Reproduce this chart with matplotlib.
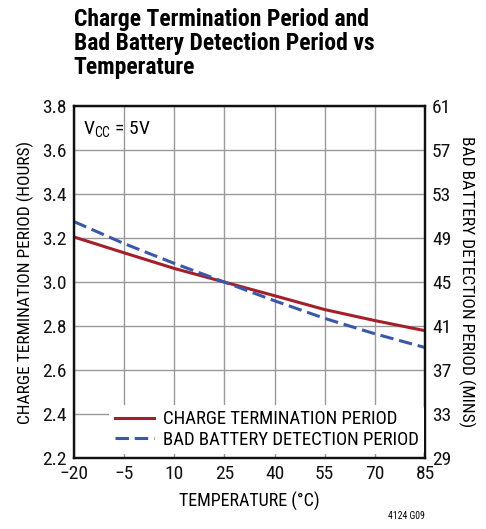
import matplotlib
matplotlib.use("Agg")
import matplotlib.pyplot as plt

plt.rcParams['font.family'] = ['Roboto Condensed', 'Archivo Narrow', 'DejaVu Sans']

# temperature (°C)
temps = [-20, -5, 10, 25, 40, 55, 70, 85]
# charge termination period (hours)
charge_hours = [3.205, 3.133, 3.062, 3.0, 2.938, 2.875, 2.825, 2.779]
# bad battery detection period (mins)
bad_batt_mins = [50.5, 48.5, 46.7, 45.0, 43.3, 41.7, 40.3, 39.05]

x_ticks = [-20, -5, 10, 25, 40, 55, 70, 85]
x_labels = ['\u221220', '\u22125', '10', '25', '40', '55', '70', '85']
left_ticks = [2.2, 2.4, 2.6, 2.8, 3.0, 3.2, 3.4, 3.6, 3.8]
right_ticks = [29, 33, 37, 41, 45, 49, 53, 57, 61]

red = '#a3202a'
blue = '#3b58a8'

fig = plt.figure(figsize=(4.86, 5.29), dpi=100)
ax = fig.add_axes([0.152, 0.134, 0.7225, 0.6656])
ax2 = ax.twinx()

l1, = ax.plot(temps, charge_hours, color=red, lw=2.2, label='CHARGE TERMINATION PERIOD')
l2, = ax2.plot(temps, bad_batt_mins, color=blue, lw=2.2, dashes=(4.4, 1.9),
               label='BAD BATTERY DETECTION PERIOD')

ax.set_xlim(-20, 85)
ax.set_ylim(2.2, 3.8)
ax2.set_ylim(29, 61)
ax.set_xticks(x_ticks)
ax.set_xticklabels(x_labels)
ax.set_yticks(left_ticks)
ax.set_yticklabels(['%.1f' % v for v in left_ticks])
ax2.set_yticks(right_ticks)

ax.grid(True, color='#999999', lw=1.0)
ax.set_axisbelow(True)
for a in (ax, ax2):
    for s in a.spines.values():
        s.set_linewidth(1.6)
        s.set_color('#111111')
    a.tick_params(length=0, labelsize=14, pad=5, colors='#111111')

ax.set_xlabel('TEMPERATURE (\u00b0C)', fontsize=13, labelpad=6)
ax.set_ylabel('CHARGE TERMINATION PERIOD (HOURS)', fontsize=12.5, labelpad=6)
ax2.set_ylabel('BAD BATTERY DETECTION PERIOD (MINS)', fontsize=12.5, rotation=270, labelpad=17)

ax.text(0.025, 0.96, r'V$_{\mathregular{CC}}$ = 5V', transform=ax.transAxes,
        fontsize=14, va='top', ha='left')

leg = ax2.legend(handles=[l1, l2], loc='lower left', bbox_to_anchor=(0.09, 0.0),
                 frameon=True, fontsize=13.5, handlelength=2.1, handletextpad=0.45,
                 labelspacing=0.12, borderpad=0.3, borderaxespad=0.2)
leg.get_frame().set_edgecolor('none')
leg.get_frame().set_facecolor('white')
leg.get_frame().set_alpha(1)

fig.text(0.152, 0.985, 'Charge Termination Period and\nBad Battery Detection Period vs\nTemperature',
         fontsize=17, fontweight='bold', ha='left', va='top', linespacing=1.05)
fig.text(0.874, 0.015, '4124 G09', fontsize=7, ha='right', va='bottom')

fig.savefig('out.png', dpi=100)
